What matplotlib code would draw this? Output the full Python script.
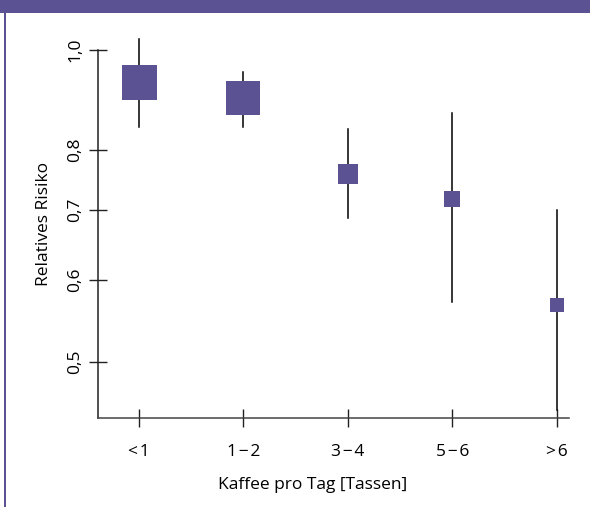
import matplotlib.pyplot as plt
from matplotlib.patches import Rectangle
from matplotlib.ticker import FixedLocator, NullLocator

plt.rcParams['font.family'] = ['Open Sans', 'DejaVu Sans']

kategorien = ['<\u200a1', '1\u200a\u2212\u200a2', '3\u200a\u2212\u200a4', '5\u200a\u2212\u200a6', '>\u200a6']
rr = [0.930, 0.899, 0.758, 0.717, 0.567]
ci_unten = [0.843, 0.843, 0.688, 0.571, 0.449]
ci_oben = [1.025, 0.952, 0.839, 0.869, 0.701]
y_ticks = [0.5, 0.6, 0.7, 0.8, 1.0]
y_labels = ['0,5', '0,6', '0,7', '0,8', '1,0']

# Kantenlaenge der Quadrate (pt), entspricht dem Gewicht der Gruppe
groesse = [25.2, 24.5, 13.7, 12.2, 9.4]

lila = '#5b5294'
fs = 12.5

fig = plt.figure(figsize=(5.9, 5.07), dpi=100)
ax = fig.add_axes([98 / 590, 1 - 418 / 507, (569 - 98) / 590, (418 - 30) / 507])

x = list(range(1, len(kategorien) + 1))
for xi, m, lo, hi, s in zip(x, rr, ci_unten, ci_oben, groesse):
    ax.plot([xi, xi], [lo, hi], color='black', linewidth=1.1, zorder=2)
    ax.plot(xi, m, marker='s', markersize=s, color=lila, markeredgewidth=0, zorder=3)

ax.set_yscale('log')
ax.set_ylim(0.441, 1.045)
ax.set_xlim(0.608, 5.115)
ax.yaxis.set_major_locator(FixedLocator(y_ticks))
ax.yaxis.set_minor_locator(NullLocator())
ax.set_yticklabels(y_labels, rotation=90, va='center', fontsize=fs)
ax.set_xticks(x)
ax.set_xticklabels(kategorien, fontsize=fs)
ax.tick_params(direction='inout', length=13, width=1, color='#222222')
ax.tick_params(axis='x', pad=12)
ax.tick_params(axis='y', pad=4)

for sp in ['top', 'right']:
    ax.spines[sp].set_visible(False)
ax.spines['left'].set_bounds(0.441, 1.0)
ax.spines['left'].set_linewidth(1.1)
ax.spines['bottom'].set_linewidth(1.1)
ax.spines['left'].set_color('#222222')
ax.spines['bottom'].set_color('#444444')

ax.set_xlabel('Kaffee pro Tag [Tassen]', fontsize=fs)
ax.xaxis.set_label_coords((313 - 98) / 471, -(485 - 418) / 388, transform=ax.transAxes)
ax.xaxis.label.set_va('center')
ax.set_ylabel('Relatives Risiko', fontsize=fs, labelpad=11)

# Kopfband und Rahmenlinie links
fig.patches.append(Rectangle((0, 1 - 13 / 507), 1, 13 / 507, transform=fig.transFigure,
                             facecolor=lila, edgecolor='none'))
fig.patches.append(Rectangle((4 / 590, 0), 2 / 590, 1, transform=fig.transFigure,
                             facecolor=lila, edgecolor='none'))

fig.savefig('out.png', dpi=100)
